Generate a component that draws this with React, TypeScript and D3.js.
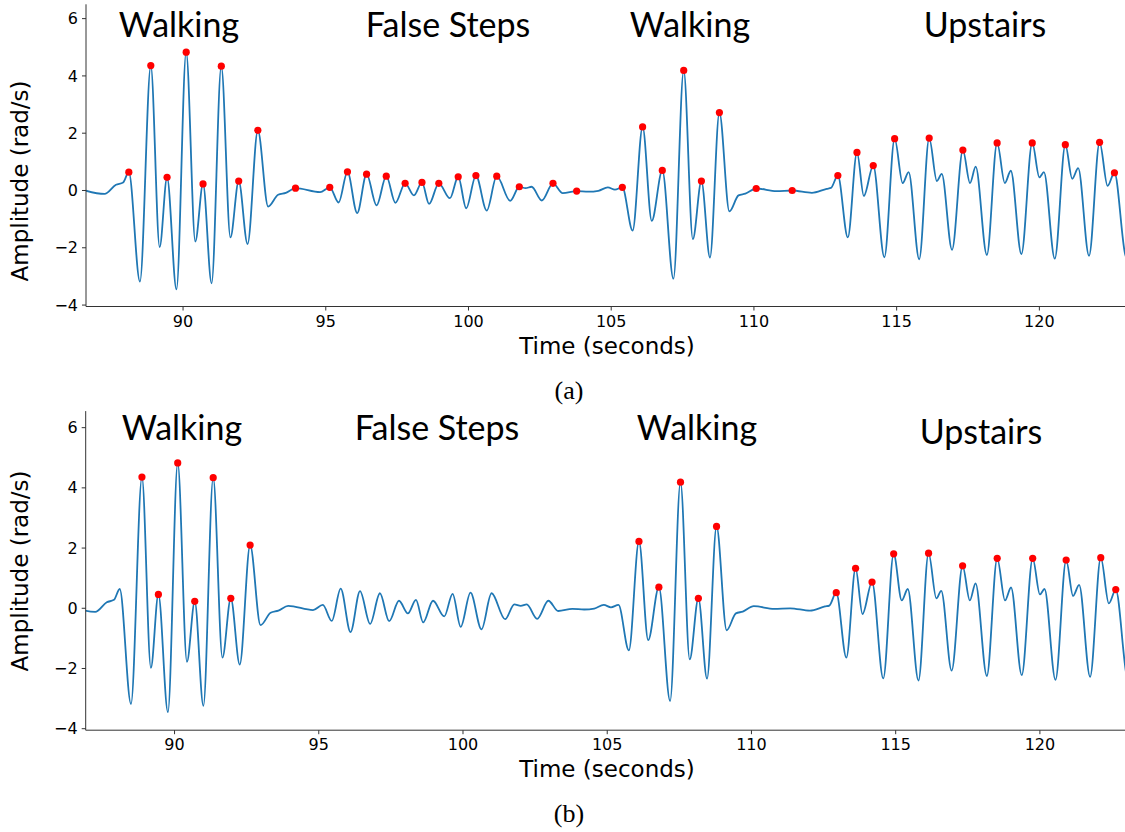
import React from "react";
import * as d3 from "d3";

// ---- Data ----
const signalTime = [
  86.5, 87.25, 87.65, 87.9, 88.1, 88.49, 88.87, 89.18, 89.44, 89.77, 90.11, 90.43, 90.7, 91.0, 91.34, 91.66,
  91.95, 92.26, 92.62, 92.98, 93.33, 93.6, 93.94, 94.8, 95.14, 95.45, 95.76, 96.1, 96.43, 96.78, 97.12, 97.44,
  97.78, 98.09, 98.37, 98.62, 98.96, 99.35, 99.64, 99.92, 100.26, 100.64, 100.99, 101.46, 101.78, 102.0, 102.21,
  102.57, 102.96, 103.3, 103.79, 104.2, 104.55, 104.88, 105.13, 105.39, 105.75, 106.1, 106.42, 106.79, 107.18,
  107.54, 107.86, 108.16, 108.46, 108.79, 109.14, 109.46, 109.7, 110.08, 110.79, 111.34, 112.03, 112.55, 112.7,
  112.94, 113.29, 113.61, 113.85, 114.18, 114.57, 114.93, 115.21, 115.42, 115.79, 116.14, 116.41, 116.58, 116.94,
  117.32, 117.57, 117.77, 118.16, 118.52, 118.79, 119.0, 119.37, 119.75, 120.0, 120.16, 120.54, 120.91, 121.15,
  121.36, 121.74, 122.11, 122.39, 122.63, 123.0, 123.15,
];
const signalAmp = [
  0.02, -0.12, 0.2, 0.28, 0.64, -3.18, 4.36, -1.98, 0.46, -3.45, 4.83, -1.78, 0.23, -3.24, 4.34, -1.64,
  0.33, -1.87, 2.1, -0.56, -0.15, -0.08, 0.08, -0.06, 0.11, -0.42, 0.65, -0.79, 0.57, -0.52, 0.5, -0.43,
  0.25, -0.17, 0.28, -0.47, 0.25, -0.27, 0.48, -0.62, 0.52, -0.7, 0.5, -0.36, 0.13, 0.08, 0.13,
  -0.35, 0.25, -0.09, -0.02, -0.04, -0.01, 0.11, 0.03, 0.11, -1.4, 2.22, -1.06, 0.7, -3.08,
  4.19, -1.7, 0.33, -2.34, 2.72, -0.73, -0.17, -0.11, 0.07, -0.02, 0.0, -0.08, 0.06, 0.09,
  0.52, -1.64, 1.33, -0.19, 0.87, -2.33, 1.81, 0.26, 0.64, -2.4, 1.83, 0.33, 0.58, -2.07,
  1.41, 0.26, 0.83, -2.25, 1.66, 0.26, 0.69, -2.22, 1.66, 0.46, 0.64, -2.38, 1.6, 0.41,
  0.78, -2.28, 1.68, 0.16, 0.62, -2.2, -2.6,
];
// detected peaks (times), panel (a): all peaks; panel (b): peaks kept after filtering
const peakTimesA = [
  88.1, 88.87, 89.44, 90.11, 90.7, 91.34, 91.95, 92.62, 93.94, 95.14, 95.76, 96.43, 97.12, 97.78, 98.37, 98.96,
  99.64, 100.26, 100.99, 101.78, 102.96, 103.79, 105.39, 106.1, 106.79, 107.54, 108.16, 108.79, 110.08, 111.34,
  112.94, 113.61, 114.18, 114.93, 116.14, 117.32, 118.52, 119.75, 120.91, 122.11, 122.63,
];
const peakTimesB = [
  88.87, 89.44, 90.11, 90.7, 91.34, 91.95, 92.62, 106.1, 106.79, 107.54, 108.16, 108.79,
  112.94, 113.61, 114.18, 114.93, 116.14, 117.32, 118.52, 119.75, 120.91, 122.11, 122.63,
];
const xTickValues = [90, 95, 100, 105, 110, 115, 120];
const yTickValues = [-4, -2, 0, 2, 4, 6];
const activityLabels = ["Walking", "False Steps", "Walking", "Upstairs"];
const panelCaptions = ["(a)", "(b)"];

// ---- Layout ----
const W = 1125;
const H = 832;
const LINE = "#1f77b4";
const panels = [
  {
    xDomain: [86.6, 123], xRange: [86, 1125],
    yDomain: [-4.05, 6.5], yRange: [306.5, 4.3],
    peaks: peakTimesA,
    labelX: [179, 448, 690, 985], labelY: [37, 37, 37, 37],
    xLabelY: 354, captionY: 399, yLabelY: 181,
  },
  {
    xDomain: [86.92, 122.95], xRange: [85.7, 1125],
    yDomain: [-4.05, 6.55], yRange: [730.2, 411.1],
    peaks: peakTimesB,
    labelX: [182, 437, 697, 981], labelY: [440, 440, 440, 444],
    xLabelY: 777, captionY: 822, yLabelY: 571,
  },
];

const signal = signalTime.map((t, i) => ({ t, v: signalAmp[i] }));

function Panel({ p, idx }: { p: any; idx: number }) {
  const x = d3.scaleLinear().domain(p.xDomain).range(p.xRange);
  const y = d3.scaleLinear().domain(p.yDomain).range(p.yRange);
  const line = d3
    .line<{ t: number; v: number }>()
    .x((d) => x(d.t))
    .y((d) => y(d.v))
    .curve(d3.curveMonotoneX);
  const left = p.xRange[0];
  const right = p.xRange[1];
  const top = p.yRange[1];
  const bottom = p.yRange[0];
  const clipId = `clip-${idx}`;
  const peakPts = p.peaks.map((t: number) => {
    const j = d3.minIndex(signalTime, (s) => Math.abs(s - t));
    return signal[j];
  });
  const fmt = (v: number) => (v < 0 ? "\u2212" + Math.abs(v) : String(v));
  const axisColor = "#333";
  return (
    <g>
      <defs>
        <clipPath id={clipId}>
          <rect x={left} y={top - 10} width={right - left} height={bottom - top + 20} />
        </clipPath>
      </defs>
      <path d={line(signal) || ""} fill="none" stroke={LINE} strokeWidth={1.8} clipPath={`url(#${clipId})`} />
      {peakPts.map((d: any, i: number) => (
        <circle key={i} cx={x(d.t)} cy={y(d.v)} r={3.6} fill="#ff0000" />
      ))}
      {/* spines */}
      <line x1={left} x2={left} y1={top} y2={bottom} stroke={axisColor} strokeWidth={1} />
      <line x1={left} x2={right} y1={bottom} y2={bottom} stroke={axisColor} strokeWidth={1} />
      {yTickValues.map((v) => (
        <g key={v}>
          <line x1={left - 4} x2={left} y1={y(v)} y2={y(v)} stroke={axisColor} strokeWidth={1} />
          <text x={left - 8} y={y(v)} dy="0.35em" textAnchor="end" fontFamily="DejaVu Sans" fontSize={16} fill="#000">
            {fmt(v)}
          </text>
        </g>
      ))}
      {xTickValues.map((v) => (
        <g key={v}>
          <line x1={x(v)} x2={x(v)} y1={bottom} y2={bottom + 4} stroke={axisColor} strokeWidth={1} />
          <text x={x(v)} y={bottom + 20} textAnchor="middle" fontFamily="DejaVu Sans" fontSize={16} fill="#000">
            {fmt(v)}
          </text>
        </g>
      ))}
      <text x={607} y={p.xLabelY} textAnchor="middle" fontFamily="DejaVu Sans" fontSize={23} fill="#000">
        Time (seconds)
      </text>
      <text
        transform={`translate(28,${p.yLabelY}) rotate(-90)`}
        textAnchor="middle"
        fontFamily="DejaVu Sans"
        fontSize={23}
        fill="#000"
      >
        Amplitude (rad/s)
      </text>
      {activityLabels.map((s, i) => (
        <text key={i} x={p.labelX[i]} y={p.labelY[i]} textAnchor="middle" fontFamily="Lato" fontSize={34} fill="#000">
          {s}
        </text>
      ))}
      <text x={569} y={p.captionY} textAnchor="middle" fontFamily="Liberation Serif" fontSize={26} fill="#000">
        {panelCaptions[idx]}
      </text>
    </g>
  );
}

export default function App() {
  return (
    <svg width={W} height={H} style={{ position: "absolute", left: 0, top: 0, background: "#fff" }}>
      <rect width={W} height={H} fill="#fff" />
      {panels.map((p, i) => (
        <Panel key={i} p={p} idx={i} />
      ))}
    </svg>
  );
}
